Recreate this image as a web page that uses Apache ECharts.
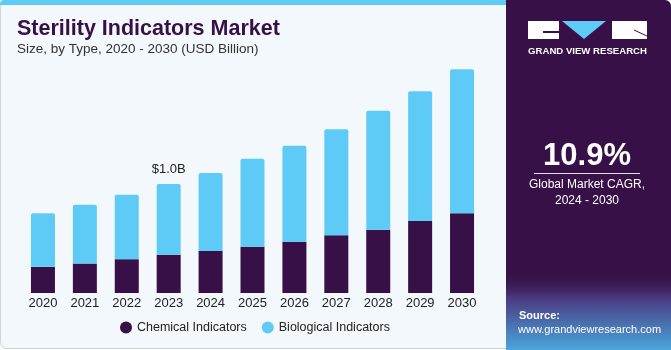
<!DOCTYPE html>
<html>
<head>
<meta charset="utf-8">
<script src="https://cdn.jsdelivr.net/npm/echarts@6/dist/echarts.min.js"></script>
<style>
  html, body { margin: 0; padding: 0; background: #ffffff; }
  #chart { width: 671px; height: 350px; }
</style>
</head>
<body>
<div id="chart"></div>
<script>
// 数据：读图估算（USD Billion）
const years = ['2020', '2021', '2022', '2023', '2024', '2025', '2026', '2027', '2028', '2029', '2030']
const chemical = [0.24, 0.27, 0.31, 0.35, 0.385, 0.425, 0.47, 0.53, 0.58, 0.66, 0.73]
const biological = [0.49, 0.54, 0.59, 0.65, 0.715, 0.805, 0.88, 0.97, 1.09, 1.19, 1.32]
const labelIndex = 3
const labelText = '$1.0B'

const PURPLE = '#371047'
const CYAN = '#5ecbf6'
const FONT = '"Liberation Sans", Arial, sans-serif'

const chart = echarts.init(document.getElementById('chart'))

const option = {
	animation: false,
	textStyle: { fontFamily: FONT },
	grid: { left: 22, right: 188, top: 53, bottom: 57, containLabel: false },
	xAxis: {
		type: 'category',
		data: years,
		axisLine: { show: false },
		axisTick: { show: false },
		axisLabel: { color: '#222', fontSize: 13, margin: 4, fontFamily: FONT },
	},
	yAxis: { type: 'value', min: 0, max: 2.2, show: false },
	legend: {
		bottom: 11,
		left: 115,
		itemGap: 15,
		icon: 'circle',
		itemWidth: 12,
		itemHeight: 12,
		textStyle: { color: '#222', fontSize: 12.5, fontFamily: FONT },
		data: ['Chemical Indicators', 'Biological Indicators'],
	},
	series: [
		{
			name: 'Chemical Indicators',
			type: 'bar',
			stack: 'total',
			barWidth: 24,
			data: chemical,
			itemStyle: { color: PURPLE },
		},
		{
			name: 'Biological Indicators',
			type: 'bar',
			stack: 'total',
			barWidth: 24,
			data: biological.map((v, i) => i === labelIndex
				? { value: v, label: { show: true, position: 'top', formatter: labelText, color: '#222', fontSize: 13, distance: 8 } }
				: v),
			itemStyle: { color: CYAN, borderRadius: [2, 2, 0, 0] },
		},
	],
	graphic: [
		// 左侧背景面板
		{ type: 'rect', z: -10, shape: { x: 0.5, y: 0.5, width: 520, height: 348, r: 6 }, style: { fill: '#f3f8fc', stroke: '#cfd3d6', lineWidth: 1 } },
		{ type: 'rect', z: -9, shape: { x: 0, y: 0, width: 510, height: 5, r: [4, 0, 0, 0] }, style: { fill: CYAN } },
		// 右侧深色面板
		{ type: 'rect', z: -8, shape: { x: 506, y: 0, width: 165, height: 350, r: [0, 6, 0, 0] }, style: { fill: PURPLE } },
		{
			type: 'rect', z: -7, shape: { x: 506, y: 270, width: 165, height: 80 },
			style: {
				fill: new echarts.graphic.LinearGradient(0, 0, 0, 1, [
					{ offset: 0, color: 'rgba(55,16,71,0)' },
					{ offset: 0.35, color: '#4a3a80' },
					{ offset: 1, color: '#4aa6dc' },
				]),
			},
		},
		// 标题
		{ type: 'text', x: 17, y: 29, style: { text: 'Sterility Indicators Market', fill: PURPLE, font: 'bold 21.5px ' + FONT, verticalAlign: 'middle' } },
		{ type: 'text', x: 17, y: 49, style: { text: 'Size, by Type, 2020 - 2030 (USD Billion)', fill: '#333', font: '13.5px ' + FONT, verticalAlign: 'middle' } },
		// logo
		{ type: 'rect', shape: { x: 528, y: 21, width: 31, height: 18 }, style: { fill: '#fff' } },
		{ type: 'rect', shape: { x: 543, y: 31, width: 16, height: 2 }, style: { fill: PURPLE } },
		{ type: 'polygon', shape: { points: [[562, 21], [606, 21], [584, 39]] }, style: { fill: CYAN } },
		{ type: 'rect', shape: { x: 612, y: 21, width: 35, height: 18 }, style: { fill: '#fff' } },
		{ type: 'polyline', shape: { points: [[634, 30], [647, 36]] }, style: { stroke: PURPLE, lineWidth: 1 } },
		{ type: 'text', x: 587.5, y: 51, style: { text: 'GRAND VIEW RESEARCH', fill: '#fff', font: 'bold 9.6px ' + FONT, align: 'center', verticalAlign: 'middle' } },
		// CAGR
		{ type: 'text', x: 587, y: 156, style: { text: '10.9%', fill: '#fff', font: 'bold 31px ' + FONT, align: 'center', verticalAlign: 'middle' } },
		{ type: 'rect', shape: { x: 534, y: 173, width: 106, height: 1 }, style: { fill: '#ddd' } },
		{ type: 'text', x: 587, y: 185, style: { text: 'Global Market CAGR,', fill: '#fff', font: '12px ' + FONT, align: 'center', verticalAlign: 'middle' } },
		{ type: 'text', x: 587, y: 201, style: { text: '2024 - 2030', fill: '#fff', font: '12px ' + FONT, align: 'center', verticalAlign: 'middle' } },
		// 来源
		{ type: 'text', x: 519, y: 316, style: { text: 'Source:', fill: '#fff', font: 'bold 11px ' + FONT, verticalAlign: 'middle' } },
		{ type: 'text', x: 518, y: 330, style: { text: 'www.grandviewresearch.com', fill: '#fff', font: '11px ' + FONT, verticalAlign: 'middle' } },
	],
}

chart.setOption(option)
</script>
</body>
</html>
